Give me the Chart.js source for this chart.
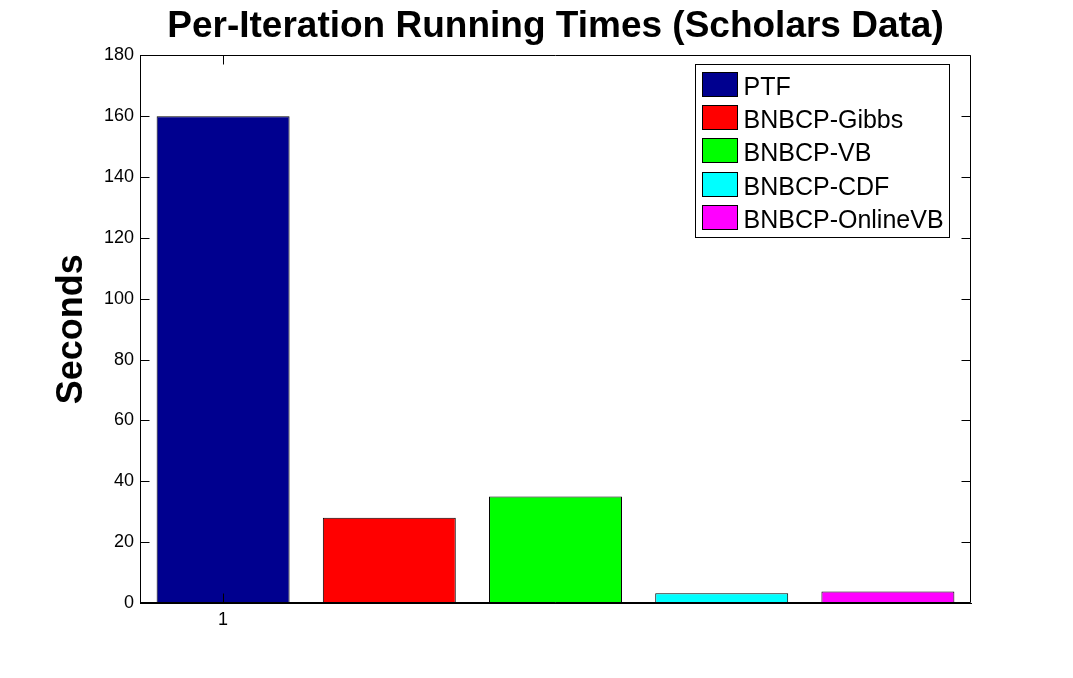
<!DOCTYPE html>
<html>
<head>
<meta charset="utf-8">
<script src="https://cdn.jsdelivr.net/npm/chart.js@4/dist/chart.umd.min.js"></script>
<style>
  html, body { margin: 0; padding: 0; background: #ffffff; }
  #wrap { width: 1073px; height: 678px; }
</style>
</head>
<body>
<div id="wrap"><canvas id="c" width="1073" height="678"></canvas></div>
<script>
const chartTitle = 'Per-Iteration Running Times (Scholars Data)';
const yAxisTitle = 'Seconds';
const seriesNames = ['PTF', 'BNBCP-Gibbs', 'BNBCP-VB', 'BNBCP-CDF', 'BNBCP-OnlineVB'];
const seriesValues = [160, 28, 35, 3.2, 3.8];
const seriesColors = ['#00008f', '#ff0000', '#00ff00', '#00ffff', '#ff00ff'];
const xTickLabels = ['1', '', '', '', ''];
const yMin = 0, yMax = 180, yStep = 20;

const FONT = '"Liberation Sans", Arial, Helvetica, sans-serif';

const matlabAxes = {
  id: 'matlabAxes',
  afterDraw(chart) {
    const ctx = chart.ctx;
    const a = chart.chartArea;
    const xs = chart.scales.x, ys = chart.scales.y;
    const L = Math.round(a.left) + 0.5, R = Math.round(a.right) - 0.5;
    const T = Math.round(a.top) + 0.5, B = Math.round(a.bottom) - 0.5;
    const tl = 9;
    ctx.save();
    ctx.strokeStyle = '#000';
    ctx.lineWidth = 1;
    ctx.beginPath();
    ctx.rect(L, T, R - L, B - T);
    ys.ticks.forEach(t => {
      const py = Math.round(ys.getPixelForValue(t.value)) + 0.5;
      ctx.moveTo(L, py); ctx.lineTo(L + tl, py);
      ctx.moveTo(R, py); ctx.lineTo(R - tl, py);
    });
    xs.ticks.forEach((t, i) => {
      if (!xTickLabels[i]) return;
      const px = Math.round(xs.getPixelForValue(i)) + 0.5;
      ctx.moveTo(px, B); ctx.lineTo(px, B - tl);
      ctx.moveTo(px, T); ctx.lineTo(px, T + tl);
    });
    ctx.stroke();

    // legend box (inside axes, top right)
    const fs = 25;
    ctx.font = fs + 'px ' + FONT;
    let maxW = 0;
    seriesNames.forEach(n => { maxW = Math.max(maxW, ctx.measureText(n).width); });
    const padL = 7, swW = 35, swH = 24, gap = 6, padR = 6, rowH = 33.4, padT = 7;
    const boxW = padL + swW + gap + maxW + padR;
    const boxH = padT + rowH * (seriesNames.length - 1) + swH + 8;
    const bx = Math.round(a.right - 22 - boxW) + 0.5;
    const by = Math.round(a.top + 9) + 0.5;
    ctx.fillStyle = '#fff';
    ctx.fillRect(bx, by, boxW, boxH);
    ctx.strokeRect(bx, by, Math.round(boxW), Math.round(boxH));
    ctx.textBaseline = 'alphabetic';
    ctx.textAlign = 'left';
    seriesNames.forEach((n, i) => {
      const sy = Math.round(by + padT + rowH * i) + 0.5;
      const sx = bx + padL;
      ctx.fillStyle = seriesColors[i];
      ctx.fillRect(sx, sy, swW, swH);
      ctx.strokeRect(sx, sy, swW, swH);
      ctx.fillStyle = '#000';
      ctx.fillText(n, sx + swW + gap, sy + 22.6);
    });
    ctx.restore();
  }
};

new Chart(document.getElementById('c'), {
  type: 'bar',
  data: {
    labels: seriesNames,
    datasets: [{
      label: 'Seconds',
      data: seriesValues,
      backgroundColor: seriesColors,
      borderColor: '#000',
      borderWidth: 1,
      barPercentage: 0.8,
      categoryPercentage: 1.0
    }]
  },
  options: {
    responsive: false,
    animation: false,
    devicePixelRatio: 1,
    layout: { padding: { left: 0, right: 102, top: 0, bottom: 0 } },
    plugins: {
      legend: { display: false },
      tooltip: { enabled: false },
      title: {
        display: true,
        text: chartTitle,
        fullSize: false,
        color: '#000',
        font: { family: FONT, size: 37, weight: 'bold', lineHeight: 1.2 },
        padding: { top: 5, bottom: 6 }
      }
    },
    scales: {
      x: {
        type: 'category',
        grid: { display: false, drawTicks: false },
        border: { display: true, color: '#000', width: 1 },
        ticks: {
          autoSkip: false, maxRotation: 0, minRotation: 0,
          color: '#000', padding: 6,
          font: { family: FONT, size: 18 },
          callback: (v, i) => xTickLabels[i]
        },
        afterFit(s) { s.height = 75; }
      },
      y: {
        min: yMin, max: yMax,
        grid: { display: false, drawTicks: false },
        border: { display: true, color: '#000', width: 1 },
        ticks: {
          stepSize: yStep, color: '#000', padding: 6,
          font: { family: FONT, size: 18 }
        },
        title: {
          display: true, text: yAxisTitle, color: '#000',
          font: { family: FONT, size: 36, weight: 'bold', lineHeight: 1.2 },
          padding: { top: 50, bottom: 0 }
        },
        afterFit(s) { s.width = 140; }
      }
    }
  },
  plugins: [matlabAxes]
});
</script>
</body>
</html>
